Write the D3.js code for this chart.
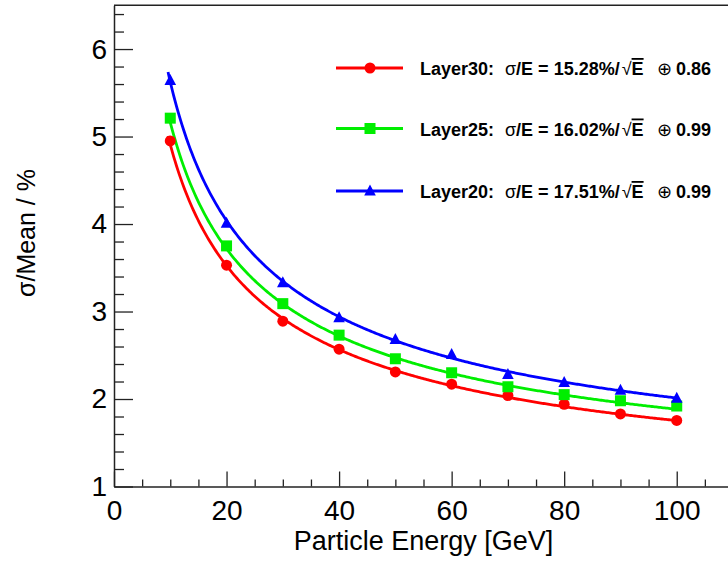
<!DOCTYPE html>
<html><head><meta charset="utf-8">
<script src="https://cdn.jsdelivr.net/npm/d3@7"></script>
<style>
html,body{margin:0;padding:0;background:#fff;}
svg{display:block;font-family:"Liberation Sans",Arial,Helvetica,sans-serif;}
</style></head>
<body>
<svg id="c" width="728" height="563"></svg>
<script>
// ---- data ----
const energies = [10,20,30,40,50,60,70,80,90,100];
const layer30 = [4.95,3.53,2.89,2.57,2.31,2.17,2.04,1.94,1.83,1.755];
const layer25 = [5.21,3.75,3.09,2.73,2.46,2.30,2.14,2.05,1.98,1.92];
const layer20 = [5.64,4.01,3.33,2.93,2.68,2.51,2.28,2.19,2.10,2.01];
const seriesNames = ["Layer30","Layer25","Layer20"];
const fitStochastic = [15.28,16.02,17.51]; // % / sqrt(E)
const fitConstant = [0.86,0.99,0.99];       // %
const fitRange = [9.6,100];
const xTicks = [0,20,40,60,80,100];
const yTicks = [1,2,3,4,5,6];
const xTitle = "Particle Energy [GeV]";
const yTitle = "σ/Mean / %";

const colors = ["#ff0000","#00ee00","#0000ff"];
const markers = ["circle","square","triangle"];
const values = [layer30, layer25, layer20];

const svg = d3.select("#c");
const x = d3.scaleLinear().domain([0,110]).range([114,733]);
const y = d3.scaleLinear().domain([1,6.5]).range([486.5,5.3]);
const axisColor = "#222";

// frame top line
svg.append("line").attr("x1",x(0)).attr("x2",x(110)).attr("y1",y(6.5)).attr("y2",y(6.5))
  .attr("stroke",axisColor).attr("stroke-width",1.5);

// Y axis major
const gy = svg.append("g").attr("transform",`translate(${x(0)},0)`)
  .call(d3.axisLeft(y).tickValues(yTicks).tickSize(-19).tickSizeOuter(0).tickPadding(7).tickFormat(d3.format("d")));
// Y minor
const yMinor = d3.range(1,6.5001,0.2).filter(v=>Math.abs(v-Math.round(v))>1e-6);
svg.append("g").attr("transform",`translate(${x(0)},0)`)
  .call(d3.axisLeft(y).tickValues(yMinor).tickSize(-10).tickFormat(""))
  .call(g=>g.select(".domain").remove());

// X axis major
const gx = svg.append("g").attr("transform",`translate(0,${y(1)})`)
  .call(d3.axisBottom(x).tickValues(xTicks).tickSize(-15).tickSizeOuter(0).tickFormat(d3.format("d")));
const xMinor = d3.range(0,110.001,5).filter(v=>v%20!==0);
svg.append("g").attr("transform",`translate(0,${y(1)})`)
  .call(d3.axisBottom(x).tickValues(xMinor).tickSize(-7).tickFormat(""))
  .call(g=>g.select(".domain").remove());

svg.selectAll(".domain").attr("stroke",axisColor).attr("stroke-width",1.5);
svg.selectAll(".tick line").attr("stroke",axisColor).attr("stroke-width",1.3);
gy.selectAll(".tick text").attr("font-size",28).attr("fill","#000").attr("font-family","Liberation Sans");
gx.selectAll(".tick text").attr("font-size",28).attr("fill","#000").attr("font-family","Liberation Sans")
  .attr("y",33).attr("dy",0);

// axis titles
svg.append("text").attr("x",(x(0)+x(110))/2).attr("y",550).attr("text-anchor","middle")
  .attr("font-size",27).text(xTitle);
svg.append("text").attr("transform",`translate(35,233) rotate(-90)`)
  .attr("text-anchor","middle").attr("font-size",25).text(yTitle);

// marker drawing
function drawMarker(g, type, cx, cy, color){
  if(type==="circle") g.append("circle").attr("cx",cx).attr("cy",cy).attr("r",5.5).attr("fill",color);
  else if(type==="square") g.append("rect").attr("x",cx-5.5).attr("y",cy-5.5).attr("width",11).attr("height",11).attr("fill",color);
  else g.append("path").attr("d",`M${cx},${cy-6.5}L${cx+5.8},${cy+4.5}L${cx-5.8},${cy+4.5}Z`).attr("fill",color);
}

// fit curves (from legend parameters) + markers
const line = d3.line().x(d=>x(d[0])).y(d=>y(d[1]));
const sampleE = d3.range(fitRange[0], fitRange[1]+0.001, 0.25);
[0,1,2].forEach(i=>{
  const a = fitStochastic[i], b = fitConstant[i];
  const pts = sampleE.map(e=>[e, Math.sqrt((a/Math.sqrt(e))**2 + b*b)]);
  svg.append("path").datum(pts).attr("d",line).attr("fill","none")
    .attr("stroke",colors[i]).attr("stroke-width",2.8);
});
[0,1,2].forEach(i=>{
  const g = svg.append("g");
  energies.forEach((e,j)=>drawMarker(g, markers[i], x(e), y(values[i][j]), colors[i]));
});

// legend
const legY = [68,128.5,191];
[0,1,2].forEach(i=>{
  const g = svg.append("g");
  g.append("line").attr("x1",336).attr("x2",403).attr("y1",legY[i]).attr("y2",legY[i])
    .attr("stroke",colors[i]).attr("stroke-width",2.8);
  drawMarker(g, markers[i], 370, legY[i], colors[i]);
  const t = g.append("text").attr("y",legY[i]+7).attr("font-size",18).attr("font-weight","bold").attr("fill","#000");
  t.append("tspan").attr("x",420).text(seriesNames[i]+":");
  t.append("tspan").attr("x",505).attr("font-weight","normal").text("σ");
  t.append("tspan").text("/E = "+fitStochastic[i].toFixed(2)+"%/");
  t.append("tspan").attr("dx",2).attr("font-weight","normal").text("√");
  t.append("tspan").style("text-decoration","overline").text("E");
  t.append("tspan").attr("x",657).attr("font-weight","normal").text("⊕");
  t.append("tspan").attr("x",676).text(fitConstant[i].toFixed(2));
});
</script>
</body></html>
